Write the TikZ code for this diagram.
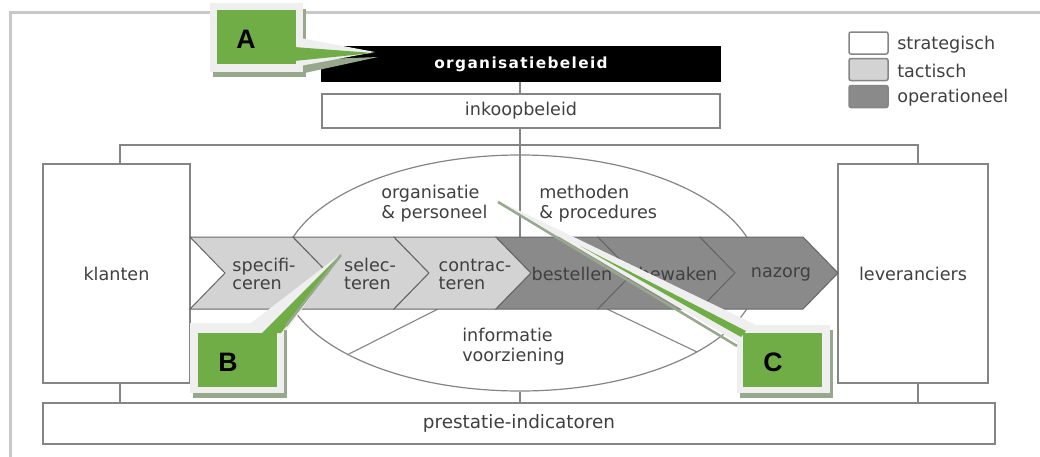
\documentclass[tikz,border=0pt]{standalone}
\usepackage{fontspec}
\setmainfont{DejaVu Sans}
\newfontfamily\spacedfont[LetterSpace=9]{DejaVu Sans}
\newfontfamily\calloutfont{Liberation Sans}
\usetikzlibrary{shapes.geometric}
\newdimen\px \px=0.75pt
\definecolor{txtc}{HTML}{404040}
\definecolor{edgec}{HTML}{858585}
\definecolor{lightc}{HTML}{D3D3D3}
\definecolor{darkc}{HTML}{8A8A8A}
\definecolor{chevedge}{HTML}{666666}
\definecolor{cgreen}{HTML}{70AD47}
\definecolor{bordc}{HTML}{EFEFEF}
\definecolor{shadc}{HTML}{98A88C}
\definecolor{framec}{HTML}{C8C8C8}
\newcommand\mainsz{\fontsize{13.2}{15}\selectfont}
\tikzset{
  box/.style={draw=edgec, line width=1.3\px, fill=white, inner sep=0pt, text=txtc, font=\mainsz},
  conn/.style={draw=edgec, line width=1.3\px},
  lbl/.style={text=txtc, font=\mainsz, inner sep=0pt},
  chevlbl/.style={text=txtc, font=\fontsize{13.2}{13.5}\selectfont, align=left, inner sep=0pt},
  ellbl/.style={text=txtc, font=\fontsize{13.2}{15}\selectfont, align=left, inner sep=0pt, anchor=west},
  chev/.style={draw=chevedge, line width=1\px, line join=miter},
  legbox/.style={draw=edgec, line width=1.5\px, rounded corners=2\px, minimum width=39\px, minimum height=22\px, inner sep=0pt},
  greenbox/.style={fill=cgreen, minimum width=79\px, minimum height=54\px, inner sep=0pt},
  calltxt/.style={font=\calloutfont\bfseries\fontsize{20}{20}\selectfont, text=black, inner sep=0pt}
}
\begin{document}
\begin{tikzpicture}[x=0.75pt, y=-0.75pt]
\useasboundingbox (0,0) rectangle (1040,457);
\fill[white] (0,0) rectangle (1040,457);
% frame
\draw[framec, line width=3\px] (10,457) -- (10,12) -- (1040,12);

% legend
\node[legbox, fill=white] (ls) at (868.5,43) {};
\node[legbox, fill=lightc] (lt) at (868.5,69.5) {};
\node[legbox, fill=darkc] (lo) at (868.5,96.5) {};
\node[lbl, anchor=west] (lst) at (897,45) {strategisch};
\node[lbl, anchor=west] (ltt) at (897,71) {tactisch};
\node[lbl, anchor=west] (lot) at (897,98) {operationeel};

% ellipse
\node[draw=edgec, line width=1.2\px, ellipse, minimum width=476\px, minimum height=236\px, inner sep=0pt] (ell) at (520,273) {};

% boxes
\node[box, draw=black, fill=black, minimum width=398\px, minimum height=34\px, text=white,
      font=\spacedfont\bfseries\fontsize{11.5}{12}\selectfont] (org) at (521,64) {organisatiebeleid};
\node[box, minimum width=398\px, minimum height=34\px] (ink) at (521,111) {inkoopbeleid};
\node[box, minimum width=147\px, minimum height=219\px] (kl) at (116.5,273.5) {klanten};
\node[box, minimum width=150\px, minimum height=219\px] (lev) at (913,273.5) {leveranciers};
\node[box, minimum width=952\px, minimum height=41\px, font=\fontsize{13.8}{15}\selectfont] (pi) at (519,423.5) {prestatie-indicatoren};

% coordinates for connectors
\coordinate (hub) at (520,145);
\coordinate (hl) at (120,145);
\coordinate (hr) at (918,145);
\coordinate (band) at (520,237);
\coordinate (bl) at (120,403);
\coordinate (br) at (918,403);
\coordinate (bm) at (520,403);

\draw[conn] (org.south -| hub) -- (ink.north -| hub);
\draw[conn] (ink.south -| hub) -- (hub);
\draw[conn] (hl |- kl.north) -- (hl) -- (hr) -- (hr |- lev.north);
\draw[conn] (hub) -- (band);
\draw[conn] (hl |- kl.south) -- (bl);
\draw[conn] (hr |- lev.south) -- (br);
\draw[conn] (ell.south) -- (bm);

% lines in lower ellipse
\coordinate (d1) at (438,309);
\coordinate (e1) at (347,355);
\coordinate (d2) at (607,309);
\coordinate (e2) at (697,352);
\draw[conn, line width=1.1\px] (d1) -- (e1);
\draw[conn, line width=1.1\px] (d2) -- (e2);

% chevrons
\path[chev, fill=lightc] (190,237) -- (293,237) -- (328,273) -- (293,309) -- (190,309) -- (225,273) -- cycle;
\path[chev, fill=lightc] (293,237) -- (394,237) -- (429,273) -- (394,309) -- (293,309) -- (328,273) -- cycle;
\path[chev, fill=lightc] (394,237) -- (496,237) -- (531,273) -- (496,309) -- (394,309) -- (429,273) -- cycle;
\path[chev, fill=darkc] (496,237) -- (598,237) -- (633,273) -- (598,309) -- (496,309) -- (531,273) -- cycle;
\path[chev, fill=darkc] (598,237) -- (700,237) -- (735,273) -- (700,309) -- (598,309) -- (633,273) -- cycle;
\path[chev, fill=darkc] (700,237) -- (803,237) -- (838,273) -- (803,309) -- (700,309) -- (735,273) -- cycle;

\node[chevlbl] (c1) at (264,274) {specifi-\\ceren};
\node[chevlbl] (c2) at (370,274) {selec-\\teren};
\node[chevlbl] (c3) at (475,274) {contrac-\\teren};
\node[chevlbl] (c4) at (572,274) {bestellen};
\node[chevlbl] (c5) at (678,274) {bewaken};
\node[chevlbl] (c6) at (781,274) {nazorg};

% ellipse labels
\node[ellbl] (op) at (381,204) {organisatie\\\& personeel};
\node[ellbl] (mp) at (539,204) {methoden\\\& procedures};
\node[ellbl] (iv) at (462,347) {informatie\\voorziening};

% callout A
\fill[shadc] (213,9) rectangle (306,77);
\fill[shadc] (300,60) -- (378,57) -- (300,74) -- cycle;
\fill[bordc] (210,3) rectangle (303,72);
\fill[bordc] (300,38) -- (375,52) -- (300,66) -- cycle;
\node[greenbox] (boxA) at (256.5,37) {};
\fill[cgreen] (294,47) -- (373,53) -- (294,61) -- cycle;
\node[calltxt] (A) at (246,39) {A};

% callout B
\fill[shadc] (193,328) rectangle (287,398);
\fill[bordc] (190,323) rectangle (284,393);
\fill[bordc] (242,330) -- (342,253) -- (287,330) -- cycle;
\fill[cgreen] (262,333) -- (342,253) -- (281,333) -- cycle;
\draw[shadc, line width=2.5\px] (286,326) -- (341,255);
\node[greenbox] (boxB) at (237,359.5) {};
\node[calltxt] (B) at (228,362) {B};

% callout C
\fill[shadc] (740,330) rectangle (833,398);
\fill[bordc] (737,325) rectangle (830,393);
\fill[bordc] (497,200) -- (756,325) -- (737,342) -- cycle;
\draw[shadc, line width=2.5\px] (498,202) -- (737,346);
\fill[cgreen] (580,246) -- (746,331) -- (741,337) -- cycle;
\node[greenbox] (boxC) at (782.5,359.5) {};
\node[calltxt] (C) at (773,362) {C};
\end{tikzpicture}
\end{document}
